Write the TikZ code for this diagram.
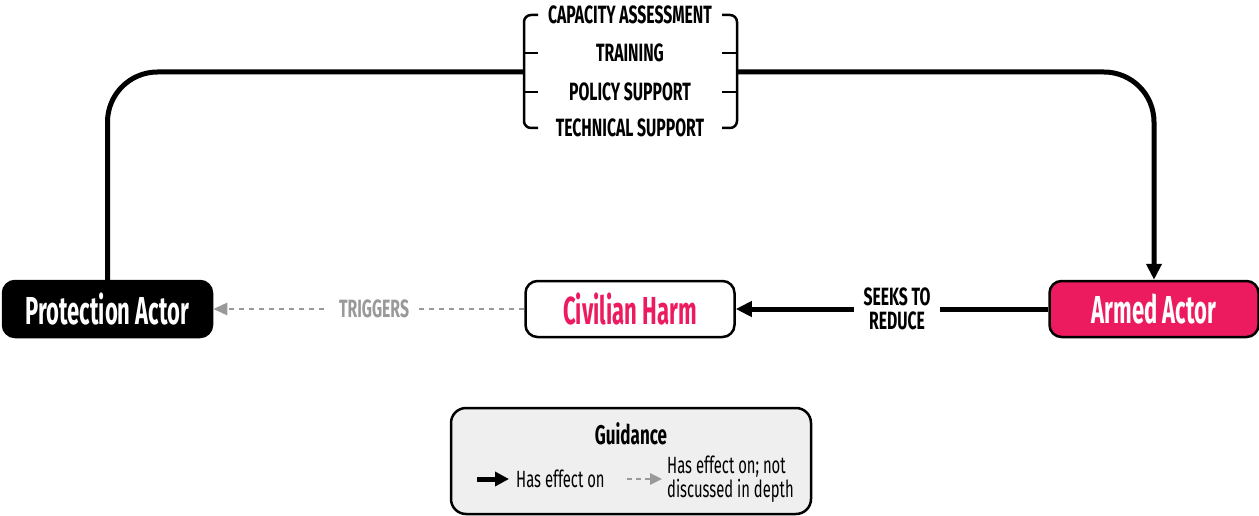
\documentclass[tikz,border=0pt]{standalone}
\usepackage{fontspec}
\setmainfont{Fira Sans}[FakeStretch=0.63]
\newfontfamily\actorfont{Fira Sans}[FakeStretch=0.565]
\usetikzlibrary{arrows.meta,positioning}
\definecolor{crimson}{HTML}{EC1A5E}
\definecolor{trigray}{HTML}{999999}
\definecolor{legfill}{HTML}{EFEFEF}
\tikzset{
  actor/.style={draw=black, line width=2.5pt, rounded corners=12pt,
    minimum width=209pt, minimum height=56pt, inner sep=0pt,
    font=\actorfont\fontsize{39}{39}\selectfont\bfseries},
  effect/.style={line width=5pt, -{Triangle[length=16pt,width=15pt]}},
  weak/.style={line width=2.5pt, draw=trigray, dash pattern=on 5pt off 5pt,
    -{Triangle[length=14pt,width=12pt]}, trigray},
  tag/.style={fill=white, align=center, inner xsep=10pt, inner ysep=6pt,
    font=\fontsize{25}{24}\selectfont\bfseries},
  item/.style={inner sep=0pt, font=\fontsize{25}{24}\selectfont\bfseries},
  bracket/.style={line width=2.5pt, rounded corners=7pt},
  legtext/.style={inner sep=0pt, align=left, font=\fontsize{23.5}{24}\selectfont}
}
\begin{document}
\begin{tikzpicture}[x=1pt,y=-1pt]
\useasboundingbox (0,0) rectangle (1259,516);

% actors
\node[actor, fill=black, text=white] (prot) at (107.5,309) {Protection Actor};
\node[actor, fill=white, text=crimson] (harm) at (630,309) {Civilian Harm};
\node[actor, fill=crimson, text=white] (armed) at (1154,309) {Armed Actor};

% support given to the armed actor
\node[item] (cap) at (630,15) {CAPACITY ASSESSMENT};
\node[item] (train) at (630,53) {TRAINING};
\node[item] (policy) at (630,92) {POLICY SUPPORT};
\node[item] (tech) at (630,128) {TECHNICAL SUPPORT};
\coordinate (bl) at (524,72);
\coordinate (br) at (737,72);
\draw[bracket] (538,15) -| (524,128) -- (538,128);
\draw[bracket] (722,15) -| (737,128) -- (722,128);
\draw[line width=2.5pt] (524,53) -- (538,53) (524,92) -- (538,92);
\draw[line width=2.5pt] (737,53) -- (722,53) (737,92) -- (722,92);

% connectors
\draw[line width=5pt, rounded corners=50pt] (prot.north) |- (bl);
\draw[effect, rounded corners=50pt] (br) -| (armed.north);
\draw[effect] (armed.west) -- node[tag, pos=0.484]{SEEKS TO\\REDUCE} (harm.east);
\draw[weak] (harm.west) -- node[tag, pos=0.483, text=trigray]{TRIGGERS} (prot.east);

% legend
\node[draw=black, fill=legfill, line width=2.5pt, rounded corners=15pt,
  minimum width=360pt, minimum height=106pt] (legend) at (631,461) {};
\node[inner sep=0pt, font=\fontsize{27}{27}\selectfont\bfseries] (guide) at (631,434) {Guidance};
\coordinate (la1) at (477,479);
\coordinate (la2) at (509,479);
\coordinate (lb1) at (627,479);
\coordinate (lb2) at (662,479);
\draw[line width=5pt, -{Triangle[length=14pt,width=14pt]}] (la1) -- (la2);
\draw[line width=2.5pt, draw=trigray, dash pattern=on 5pt off 4pt,
  -{Triangle[length=12pt,width=11pt]}, trigray] (lb1) -- (lb2);
\node[legtext, anchor=west] (full) at (516,479) {Has effect on};
\node[legtext, anchor=west] (part) at (667,479) {Has effect on; not\\discussed in depth};
\end{tikzpicture}
\end{document}
